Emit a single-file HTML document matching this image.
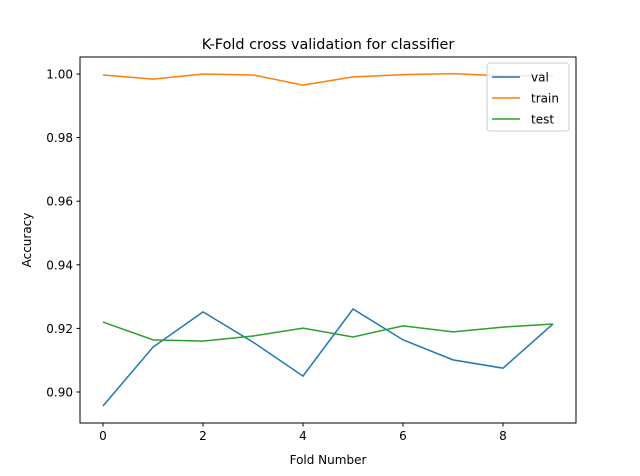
<!DOCTYPE html>
<html><head><meta charset="utf-8"><style>
body{margin:0;background:#fff;}
svg{display:block;font-family:"DejaVu Sans","Liberation Sans",sans-serif;}
</style></head><body>
<svg id="chart" width="640" height="476">
<rect x="0" y="0" width="640" height="476" fill="#fff"/>
<text x="328" y="49" font-size="14.4" text-anchor="middle">K-Fold cross validation for classifier</text>
<text x="328" y="464" font-size="12" text-anchor="middle">Fold Number</text>
<text x="31" y="240" font-size="12" text-anchor="middle" transform="rotate(-90 31 240)">Accuracy</text>
<g id="ticks"></g>
<g id="lines"></g>
<rect x="80" y="57" width="496" height="366" fill="none" stroke="#000" stroke-width="1"/>
<g id="legend">
<rect x="487" y="63" width="82" height="68" rx="3" fill="#fff" fill-opacity="0.8" stroke="#ccc"/>
</g>
</svg>
<script>
const folds=[0,1,2,3,4,5,6,7,8,9];
const valAcc=[0.8956,0.9141,0.9252,0.9157,0.9050,0.9261,0.9164,0.9101,0.9075,0.9214];
const trainAcc=[0.9997,0.9984,1.0000,0.9997,0.9965,0.9991,0.9998,1.0001,0.9994,0.9995];
const testAcc=[0.9220,0.9164,0.9160,0.9176,0.9201,0.9173,0.9208,0.9189,0.9204,0.9214];
const xTicks=[0,2,4,6,8];
const yTicks=[0.90,0.92,0.94,0.96,0.98,1.00];
const seriesNames=["val","train","test"];
const colors=["#1f77b4","#ff7f0e","#2ca02c"];
const NS="http://www.w3.org/2000/svg";
function xs(v){return 103+v*50;}
function ys(v){return 392-(v-0.90)*3180;}
function mk(t,a,p){const e=document.createElementNS(NS,t);for(const k in a)e.setAttribute(k,a[k]);p.appendChild(e);return e;}
const tg=document.getElementById('ticks');
xTicks.forEach(t=>{
 const l=mk('line',{x1:xs(t),x2:xs(t),y1:423,y2:426.5,stroke:'#000'},tg);
 
 
 const tx=mk('text',{x:xs(t),y:440,'font-size':12,'text-anchor':'middle'},tg);tx.textContent=t;
 
 
});
yTicks.forEach(t=>{
 const l=mk('line',{x1:76.5,x2:80,y1:ys(t),y2:ys(t),stroke:'#000'},tg);
 
 
 const tx=mk('text',{x:73,y:ys(t)+4.5,'font-size':12,'text-anchor':'end'},tg);tx.textContent=t.toFixed(2);
 
 
});
const lg=document.getElementById('lines');
[valAcc,trainAcc,testAcc].forEach((s,i)=>{
 const p=mk('polyline',{points:s.map((v,j)=>xs(folds[j])+','+ys(v)).join(' '),fill:'none',stroke:colors[i],'stroke-width':1.5},lg);
 
 
});
const leg=document.getElementById('legend');
seriesNames.forEach((n,i)=>{
 const y=77+i*21;
 const l=mk('line',{x1:492,x2:520,y1:y,y2:y,stroke:colors[i],'stroke-width':1.5},leg);
 
 
 const t=mk('text',{x:531,y:y+4.5,'font-size':12},leg);t.textContent=n;
 
 
});
</script>
</body></html>
